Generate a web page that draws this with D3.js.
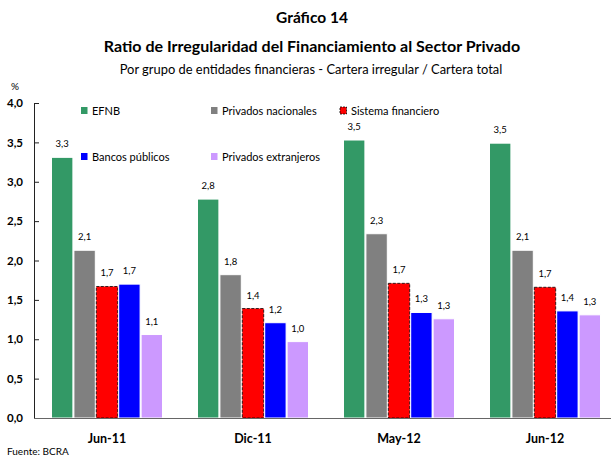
<!DOCTYPE html>
<html>
<head>
<meta charset="utf-8">
<script src="https://cdn.jsdelivr.net/npm/d3@7"></script>
<style>
  body { margin: 0; background: #fff; }
  svg { font-family: "Lato", "Open Sans", sans-serif; }
</style>
</head>
<body>
<div id="chart"></div>
<script>
// datos
var categorias = ["Jun-11", "Dic-11", "May-12", "Jun-12"]
var series = ["EFNB", "Privados nacionales", "Sistema financiero", "Bancos públicos", "Privados extranjeros"]
var efnb = [3.31, 2.78, 3.53, 3.49]
var privNacionales = [2.13, 1.82, 2.34, 2.13]
var sistemaFin = [1.67, 1.39, 1.71, 1.66]
var bancosPublicos = [1.70, 1.21, 1.34, 1.36]
var privExtranjeros = [1.06, 0.97, 1.26, 1.31]
var yTicks = [0, 0.5, 1, 1.5, 2, 2.5, 3, 3.5, 4]

var valores = [efnb, privNacionales, sistemaFin, bancosPublicos, privExtranjeros]
var colores = ["#339966", "#808080", "#ff0000", "#0000ff", "#cc99ff"]

var width = 611, height = 458
var margin = {top: 103, left: 34, bottom: 40}
var plotBottom = height - margin.bottom

var svg = d3.select("#chart").append("svg")
    .attr("width", width)
    .attr("height", height)

var coma = function (v) { return d3.format(".1f")(v).replace(".", ",") }

var x0 = d3.scaleBand()
    .domain(categorias)
    .range([margin.left, margin.left + 584])

var x1 = d3.scaleBand()
    .domain(series)
    .range([17, 129])

var y = d3.scaleLinear()
    .domain([0, 4])
    .range([plotBottom, margin.top])

// titulos
svg.append("text").attr("x", 312).attr("y", 23).attr("text-anchor", "middle")
    .style("font-weight", "bold").style("font-size", "15.5px").text("Gráfico 14")
svg.append("text").attr("x", 312).attr("y", 52).attr("text-anchor", "middle")
    .style("font-weight", "bold").style("font-size", "16px")
    .text("Ratio de Irregularidad del Financiamiento al Sector Privado")
svg.append("text").attr("x", 311).attr("y", 74).attr("text-anchor", "middle")
    .style("font-size", "12.9px")
    .text("Por grupo de entidades financieras - Cartera irregular / Cartera total")
svg.append("text").attr("x", 11).attr("y", 90).style("font-size", "10px").text("%")
svg.append("text").attr("x", 7).attr("y", 455).style("font-size", "10px").text("Fuente: BCRA")

// barras
var grupos = svg.selectAll(".grupo")
    .data(categorias)
    .enter()
    .append("g")
    .attr("transform", function (d) { return "translate(" + x0(d) + ",0)" })

grupos.selectAll("rect")
    .data(function (d, i) { return series.map(function (s, j) { return {serie: s, j: j, value: valores[j][i]} }) })
    .enter()
    .append("rect")
    .attr("x", function (d) { return x1(d.serie) + 0.5 })
    .attr("width", x1.bandwidth() - 1)
    .attr("y", function (d) { return y(d.value) })
    .attr("height", function (d) { return plotBottom - y(d.value) })
    .attr("fill", function (d) { return colores[d.j] })
    .attr("stroke", function (d) { return d.j == 2 ? "#000" : "#fff" })
    .attr("stroke-width", function (d) { return d.j == 2 ? 0.8 : 1 })
    .attr("stroke-dasharray", function (d) { return d.j == 2 ? "3,1.5" : null })

grupos.selectAll(".etiqueta")
    .data(function (d, i) { return series.map(function (s, j) { return {serie: s, j: j, value: valores[j][i]} }) })
    .enter()
    .append("text")
    .attr("class", "etiqueta")
    .attr("x", function (d) { return x1(d.serie) + x1.bandwidth() / 2 })
    .attr("y", function (d) { return y(d.value) - 10 })
    .attr("text-anchor", "middle")
    .style("font-size", "9.5px")
    .text(function (d) { return coma(d.value) })

// ejes
var yaxis = d3.axisLeft(y).tickValues(yTicks).tickSize(-5).tickPadding(11).tickFormat(coma)
var gy = svg.append("g")
    .attr("transform", "translate(" + margin.left + ",0)")
    .call(yaxis)
gy.select(".domain").attr("stroke", "#222")
gy.selectAll(".tick line").attr("stroke", "#222")
gy.selectAll(".tick text").style("font-size", "11.5px").style("font-weight", "bold")
    .style("font-family", "Lato, sans-serif").attr("fill", "#000")

svg.append("line")
    .attr("x1", margin.left).attr("x2", width)
    .attr("y1", plotBottom + 0.5).attr("y2", plotBottom + 0.5)
    .attr("stroke", "#666").attr("stroke-width", 1.2)

svg.selectAll(".cat")
    .data(categorias)
    .enter()
    .append("text")
    .attr("x", function (d) { return x0(d) + x0.bandwidth() / 2 })
    .attr("y", 443)
    .attr("text-anchor", "middle")
    .style("font-size", "12.5px")
    .style("font-weight", "bold")
    .text(function (d) { return d })

// leyenda
var legPos = [[81, 111], [211, 111], [340, 111], [81, 157], [211, 157]]
var leg = svg.selectAll(".leg")
    .data(series)
    .enter()
    .append("g")
    .attr("transform", function (d, i) { return "translate(" + legPos[i][0] + "," + legPos[i][1] + ")" })

leg.append("rect")
    .attr("x", 0).attr("y", -4).attr("width", 6.5).attr("height", 7)
    .attr("fill", function (d, i) { return colores[i] })
    .attr("stroke", function (d, i) { return i == 2 ? "#000" : "none" })
    .attr("stroke-dasharray", function (d, i) { return i == 2 ? "2,1" : null })
    .attr("stroke-width", 0.8)

leg.append("text")
    .attr("x", 11).attr("y", 4)
    .style("font-size", "11px")
    .text(function (d) { return d })
</script>
</body>
</html>
